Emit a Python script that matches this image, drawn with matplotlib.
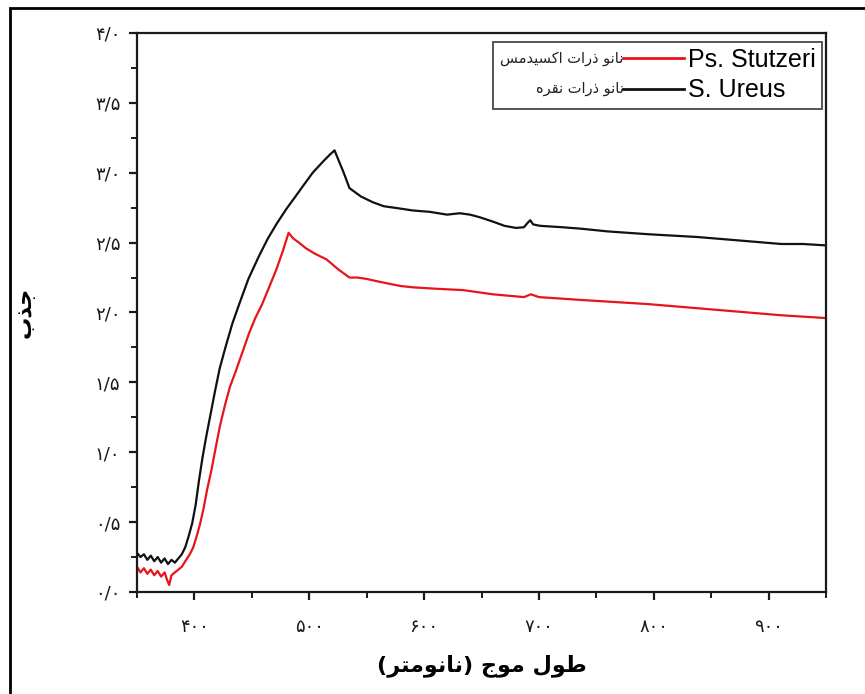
import matplotlib
matplotlib.use('Agg')
import matplotlib.pyplot as plt
from matplotlib.legend_handler import HandlerBase
from matplotlib.lines import Line2D
from matplotlib.text import Text
from matplotlib.patches import Rectangle
from matplotlib.ticker import MultipleLocator, FixedLocator

# Data (wavelength nm, absorbance)
wl_ureus = [350, 353, 356, 359, 362, 365, 368, 371, 374, 377, 380, 383, 386, 389,
            392, 395, 398, 401, 404, 407, 410, 414, 418, 422, 427, 433, 439, 447,
            456, 464, 472, 480, 488, 495, 503, 512, 518, 522, 525, 530, 535, 545,
            555, 565, 578, 590, 605, 620, 631, 640, 649, 660, 670, 680, 687, 690,
            692.5, 695, 701, 720, 736, 760, 795, 838, 882, 911, 930, 950]
abs_ureus = [0.28, 0.25, 0.27, 0.23, 0.26, 0.22, 0.25, 0.21, 0.24, 0.20, 0.23, 0.21, 0.24, 0.27,
             0.32, 0.40, 0.49, 0.62, 0.80, 0.96, 1.10, 1.27, 1.44, 1.60, 1.75, 1.92, 2.06, 2.24,
             2.40, 2.53, 2.64, 2.74, 2.83, 2.91, 3.00, 3.08, 3.13, 3.16, 3.10, 3.00, 2.89, 2.83,
             2.79, 2.76, 2.745, 2.73, 2.72, 2.70, 2.71, 2.70, 2.68, 2.65, 2.62, 2.605, 2.61, 2.64,
             2.66, 2.63, 2.62, 2.61, 2.60, 2.58, 2.56, 2.54, 2.51, 2.49, 2.49, 2.48]

wl_stutzeri = [350, 353, 356, 359, 362, 365, 368, 371, 374, 376, 378, 380, 383, 386,
               389, 392, 396, 399, 402, 405, 408, 411, 415, 418, 422, 427, 431, 436,
               442, 447.5, 453, 459, 465, 471, 477, 482, 486, 491, 497, 505, 515, 525,
               535, 542, 550, 561, 579, 590, 610, 634, 660, 687, 693, 700, 736, 795,
               853, 911, 950]
abs_stutzeri = [0.18, 0.14, 0.17, 0.13, 0.16, 0.12, 0.15, 0.11, 0.14, 0.09, 0.05, 0.12, 0.14, 0.16,
                0.18, 0.22, 0.27, 0.32, 0.40, 0.49, 0.60, 0.73, 0.88, 1.01, 1.18, 1.35, 1.47, 1.58,
                1.72, 1.85, 1.96, 2.06, 2.18, 2.30, 2.44, 2.57, 2.53, 2.50, 2.46, 2.42, 2.38, 2.31,
                2.25, 2.25, 2.24, 2.22, 2.19, 2.18, 2.17, 2.16, 2.13, 2.11, 2.13, 2.11, 2.09, 2.06,
                2.02, 1.98, 1.96]

x_ticks = [400, 500, 600, 700, 800, 900]
y_ticks = [0.0, 0.5, 1.0, 1.5, 2.0, 2.5, 3.0, 3.5, 4.0]

label_stutzeri = 'Ps. Stutzeri'
label_ureus = 'S. Ureus'
fa_stutzeri = 'نانو ذرات اکسیدمس'
fa_ureus = 'نانو ذرات نقره'
x_title = 'طول موج (نانومتر)'
y_title = 'جذب'

# minimal Persian shaping (matplotlib has no complex text layout)
FORMS = {  # iso, fin, ini, med
    'ا': ('\uFE8D', '\uFE8E', None, None),
    'ب': ('\uFE8F', '\uFE90', '\uFE91', '\uFE92'),
    'ت': ('\uFE95', '\uFE96', '\uFE97', '\uFE98'),
    'ج': ('\uFE9D', '\uFE9E', '\uFE9F', '\uFEA0'),
    'د': ('\uFEA9', '\uFEAA', None, None),
    'ذ': ('\uFEAB', '\uFEAC', None, None),
    'ر': ('\uFEAD', '\uFEAE', None, None),
    'س': ('\uFEB1', '\uFEB2', '\uFEB3', '\uFEB4'),
    'ط': ('\uFEC1', '\uFEC2', '\uFEC3', '\uFEC4'),
    'ق': ('\uFED5', '\uFED6', '\uFED7', '\uFED8'),
    'ک': ('\uFB8E', '\uFB8F', '\uFB90', '\uFB91'),
    'ل': ('\uFEDD', '\uFEDE', '\uFEDF', '\uFEE0'),
    'م': ('\uFEE1', '\uFEE2', '\uFEE3', '\uFEE4'),
    'ن': ('\uFEE5', '\uFEE6', '\uFEE7', '\uFEE8'),
    'ه': ('\uFEE9', '\uFEEA', '\uFEEB', '\uFEEC'),
    'و': ('\uFEED', '\uFEEE', None, None),
    'ی': ('\uFBFC', '\uFBFD', '\uFBFE', '\uFBFF'),
}


def shape(s):
    out = []
    for i, c in enumerate(s):
        if c not in FORMS:
            out.append(c)
            continue
        prev = s[i - 1] if i > 0 else ''
        nxt = s[i + 1] if i + 1 < len(s) else ''
        dual = FORMS[c][2] is not None
        join_prev = prev in FORMS and FORMS[prev][2] is not None
        join_next = dual and nxt in FORMS
        if join_prev and join_next:
            out.append(FORMS[c][3])
        elif join_prev:
            out.append(FORMS[c][1])
        elif join_next:
            out.append(FORMS[c][2])
        else:
            out.append(FORMS[c][0])
    vis = ''.join(out)[::-1]
    return vis.translate(str.maketrans('()', ')('))


def fa_num(v):
    digits = '۰۱۲۳۴۵۶۷۸۹'
    txt = f'{v:.1f}'.replace('.', '/')
    return ''.join(digits[int(ch)] if ch.isdigit() else ch for ch in txt)


def fa_int(v):
    digits = '۰۱۲۳۴۵۶۷۸۹'
    return ''.join(digits[int(ch)] for ch in str(v))


class TextLineHandler(HandlerBase):
    def __init__(self, text, **kw):
        super().__init__(**kw)
        self.text = text

    def create_artists(self, legend, orig_handle, xdescent, ydescent,
                       width, height, fontsize, trans):
        split = width * 0.67
        y = height / 2 - ydescent
        line = Line2D([split - xdescent, width - xdescent], [y, y],
                      color=orig_handle.get_color(), lw=2.0)
        line.set_transform(trans)
        txt = Text(split - xdescent, y, shape(self.text), ha='right', va='center',
                   fontsize=10.5, family='DejaVu Sans', color='#222222')
        txt.set_transform(trans)
        return [line, txt]


fig = plt.figure(figsize=(8.65, 6.94), dpi=100)
ax = fig.add_axes([0.1584, 0.147, 0.7965, 0.8055])

l1, = ax.plot(wl_stutzeri, abs_stutzeri, color='#e8141c', lw=1.6, label=label_stutzeri)
l2, = ax.plot(wl_ureus, abs_ureus, color='#111111', lw=1.6, label=label_ureus)

ax.set_xlim(350, 950)
ax.set_ylim(0, 4.0)
ax.xaxis.set_major_locator(FixedLocator(x_ticks))
ax.xaxis.set_minor_locator(MultipleLocator(50))
ax.yaxis.set_major_locator(FixedLocator(y_ticks))
ax.yaxis.set_minor_locator(MultipleLocator(0.25))
ax.set_xticklabels([fa_int(t) for t in x_ticks])
ax.set_yticklabels([fa_num(t) for t in y_ticks])

for sp in ax.spines.values():
    sp.set_linewidth(1.6)
    sp.set_color('#1a1a1a')
ax.tick_params(which='major', direction='out', length=6, width=1.6, labelsize=13,
               colors='#1a1a1a', pad=6)
ax.tick_params(which='minor', direction='out', length=4, width=1.4, colors='#1a1a1a')
ax.tick_params(axis='x', which='major', pad=13)
for lab in ax.get_xticklabels() + ax.get_yticklabels():
    lab.set_family('DejaVu Sans')

ax.set_xlabel(shape(x_title), fontsize=16, fontweight='bold', family='DejaVu Sans')
ax.set_ylabel(shape(y_title), fontsize=16, fontweight='bold', family='DejaVu Sans')
ax.xaxis.set_label_coords(0.5, -0.112)
ax.yaxis.set_label_coords(-0.148, 0.5)

leg = ax.legend(handles=[l1, l2], loc='upper right', bbox_to_anchor=(0.9945, 0.984),
                handlelength=7.4, handletextpad=0.15, borderpad=0.25,
                labelspacing=0.25, borderaxespad=0.0, fancybox=False, framealpha=1,
                prop={'family': 'Liberation Sans', 'size': 18},
                handler_map={l1: TextLineHandler(fa_stutzeri),
                             l2: TextLineHandler(fa_ureus)})
leg.get_frame().set_edgecolor('#555555')
leg.get_frame().set_linewidth(1.4)

# outer frame around the figure
fig.patches.append(Rectangle((10 / 865, -0.05), 1.0, 1.05 - 8 / 694, transform=fig.transFigure,
                             fill=False, lw=2, edgecolor='black'))

fig.savefig('out.png', dpi=100)
